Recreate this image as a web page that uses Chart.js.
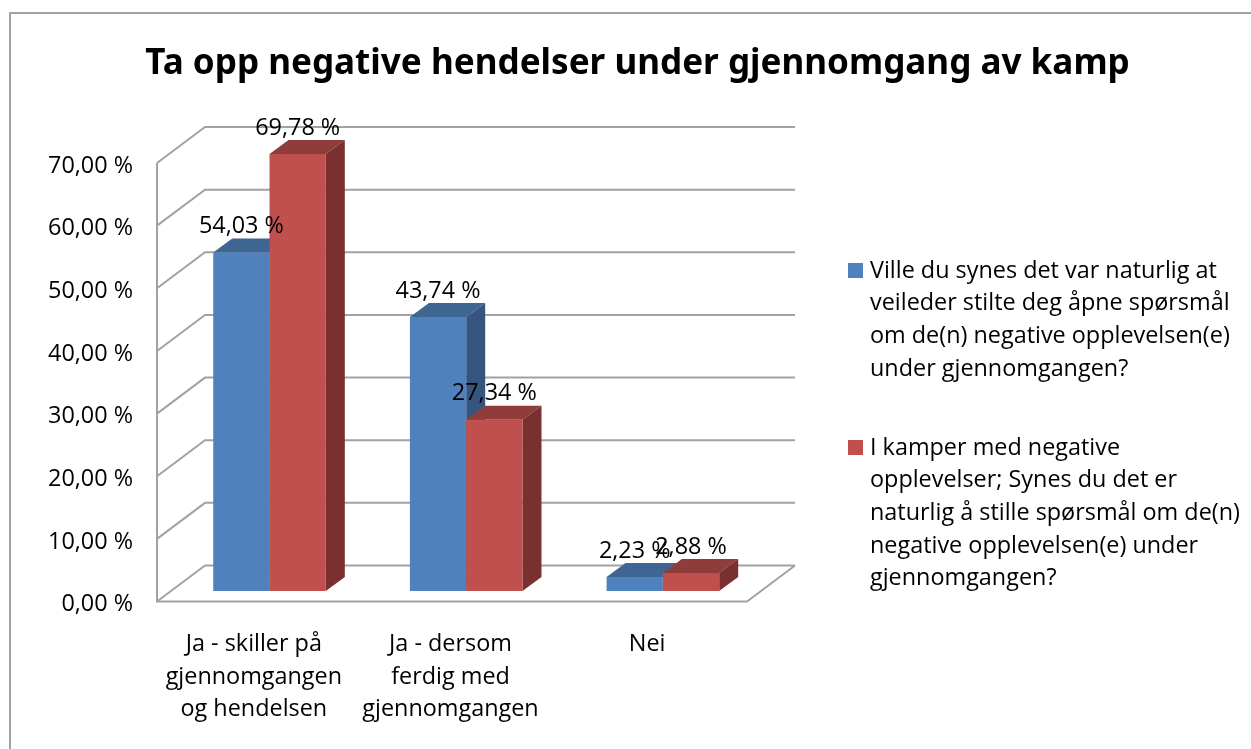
<!DOCTYPE html>
<html>
<head>
<meta charset="utf-8">
<style>
html,body{margin:0;padding:0;background:#fff;overflow:hidden}
canvas{display:block}
</style>
<script src="https://cdn.jsdelivr.net/npm/chart.js@4/dist/chart.umd.js"></script>
</head>
<body>
<canvas id="c" width="1251" height="749"></canvas>
<script>
const chartTitle = 'Ta opp negative hendelser under gjennomgang av kamp';
const categories = [
  ['Ja - skiller på', 'gjennomgangen', 'og hendelsen'],
  ['Ja - dersom', 'ferdig med', 'gjennomgangen'],
  ['Nei']
];
const seriesBlueName = [
  'Ville du synes det var naturlig at',
  'veileder stilte deg åpne spørsmål',
  'om de(n) negative opplevelsen(e)',
  'under gjennomgangen?'
];
const seriesRedName = [
  'I kamper med negative',
  'opplevelser; Synes du det er',
  'naturlig å stille spørsmål om de(n)',
  'negative opplevelsen(e) under',
  'gjennomgangen?'
];
const seriesBlue = [54.03, 43.74, 2.23];
const seriesRed = [69.78, 27.34, 2.88];

const FONT = '"Open Sans", sans-serif';
const TEXT_SIZE = 23.4;
const GRID = '#a2a2a2';
const WALL = {dx: 48, dy: -36};
const BAR_PLANE = {dx: 14.2, dy: -10.5};
const BAR_DEPTH = {dx: 19, dy: -14};
const fmt = v => v.toFixed(2).replace('.', ',') + ' %';

const drawFaces = (chart, i) => {
  const {ctx} = chart;
  const ds = chart.data.datasets[i];
  chart.getDatasetMeta(i).data.forEach(b => {
    const l = b.x - b.width / 2, r = b.x + b.width / 2;
    ctx.fillStyle = ds.topColor;
    ctx.beginPath();
    ctx.moveTo(l, b.y);
    ctx.lineTo(l + BAR_DEPTH.dx, b.y + BAR_DEPTH.dy);
    ctx.lineTo(r + BAR_DEPTH.dx, b.y + BAR_DEPTH.dy);
    ctx.lineTo(r, b.y);
    ctx.closePath();
    ctx.fill();
    ctx.fillStyle = ds.sideColor;
    ctx.beginPath();
    ctx.moveTo(r, b.y);
    ctx.lineTo(r + BAR_DEPTH.dx, b.y + BAR_DEPTH.dy);
    ctx.lineTo(r + BAR_DEPTH.dx, b.base + BAR_DEPTH.dy);
    ctx.lineTo(r, b.base);
    ctx.closePath();
    ctx.fill();
  });
};

const frame3d = {
  id: 'frame3d',
  afterLayout(chart) {
    chart.titleBlock.left = 24;
    chart.titleBlock.right = 1251;
  },
  beforeDraw(chart) {
    const {ctx, scales: {y}, chartArea: a} = chart;
    ctx.save();
    ctx.strokeStyle = GRID;
    ctx.lineWidth = 2;
    ctx.strokeRect(10, 13, 1300, 800);
    y.ticks.forEach(t => {
      const py = y.getPixelForValue(t.value);
      ctx.beginPath();
      ctx.moveTo(a.left, py);
      ctx.lineTo(a.left + WALL.dx, py + WALL.dy);
      ctx.lineTo(a.right + WALL.dx, py + WALL.dy);
      ctx.stroke();
    });
    ctx.beginPath();
    ctx.moveTo(a.left, a.top);
    ctx.lineTo(a.left, a.bottom);
    ctx.lineTo(a.right, a.bottom);
    ctx.lineTo(a.right + WALL.dx, a.bottom + WALL.dy);
    ctx.stroke();
    ctx.restore();
  },
  beforeDatasetsDraw(chart) {
    const {ctx} = chart;
    // Bars drawn left to right, so each red bar covers the side of its blue neighbour.
    ctx.save();
    ctx.translate(BAR_PLANE.dx, BAR_PLANE.dy);
    chart.data.datasets.forEach((ds, i) => {
      drawFaces(chart, i);
      chart.getDatasetMeta(i).controller.draw();
    });
    ctx.restore();

    ctx.save();
    ctx.font = TEXT_SIZE + 'px ' + FONT;
    ctx.fillStyle = '#000';
    ctx.textAlign = 'center';
    ctx.textBaseline = 'middle';
    chart.data.datasets.forEach((ds, i) => {
      chart.getDatasetMeta(i).data.forEach((b, j) => {
        ctx.fillText(fmt(ds.data[j]), b.x + BAR_PLANE.dx, b.y + BAR_PLANE.dy - 26);
      });
    });
    const drawEntry = (lines, color, yTop) => {
      ctx.fillStyle = color;
      ctx.fillRect(848, yTop - 7, 15, 15);
      ctx.fillStyle = '#000';
      ctx.textAlign = 'left';
      lines.forEach((s, k) => ctx.fillText(s, 870, yTop + 1 + k * 32.7));
    };
    drawEntry(seriesBlueName, chart.data.datasets[0].backgroundColor, 270);
    drawEntry(seriesRedName, chart.data.datasets[1].backgroundColor, 447);
    ctx.restore();
    return false;
  }
};

new Chart(document.getElementById('c'), {
  type: 'bar',
  data: {
    labels: categories,
    datasets: [
      {label: seriesBlueName.join(' '), data: seriesBlue, backgroundColor: '#4f81bd',
       topColor: '#3f6593', sideColor: '#35557f', clip: false},
      {label: seriesRedName.join(' '), data: seriesRed, backgroundColor: '#c0504d',
       topColor: '#8f3d3b', sideColor: '#7a302e', clip: false}
    ]
  },
  options: {
    responsive: false,
    animation: false,
    events: [],
    layout: {padding: {left: 0, right: 504, top: 0, bottom: 0}},
    datasets: {bar: {categoryPercentage: 0.5725, barPercentage: 1}},
    plugins: {
      legend: {display: false},
      tooltip: {enabled: false},
      title: {
        display: true,
        text: chartTitle,
        color: '#000',
        font: {family: '"Noto Sans", sans-serif', size: 35.1, weight: 'bold', lineHeight: 1.2},
        padding: {top: 43, bottom: 77.9}
      }
    },
    scales: {
      x: {
        grid: {display: false},
        border: {display: false},
        afterFit(s) { s.height = 147.5; },
        ticks: {
          color: '#000', autoSkip: false, maxRotation: 0, minRotation: 0, padding: 19, labelOffset: -1.5,
          font: {family: FONT, size: TEXT_SIZE, lineHeight: 32.5 / TEXT_SIZE}
        }
      },
      y: {
        min: 0, max: 70,
        grid: {display: false},
        border: {display: false},
        afterFit(s) { s.width = 157; },
        ticks: {
          color: '#000', stepSize: 10, padding: 16, labelOffset: 3,
          font: {family: FONT, size: TEXT_SIZE},
          callback: v => fmt(v)
        }
      }
    }
  },
  plugins: [frame3d]
});
</script>
</body>
</html>
